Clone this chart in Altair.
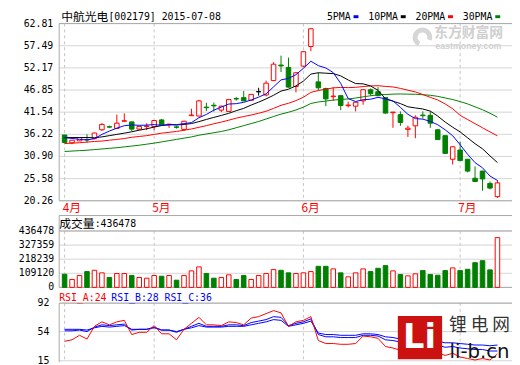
import altair as alt
import pandas as pd

# ---------------- data ----------------
candle = list(range(1, 60))
opens = [36.06, 34.17, 34.64, 34.95, 35.18, 37.31, 38.05, 37.64, 39.36, 39.20,
         37.47, 38.10, 38.11, 39.67, 38.50, 38.00, 37.40, 40.70, 40.61, 42.75,
         43.20, 42.03, 41.72, 44.80, 45.03, 44.39, 46.45, 45.67, 49.12, 52.85,
         52.28, 47.70, 52.59, 57.31, 48.81, 47.23, 45.25, 45.50, 43.10, 42.98,
         44.25, 46.92, 46.45, 45.03, 41.40, 40.95, 37.40, 38.25, 40.85, 40.78,
         37.31, 35.89, 30.23, 32.45, 30.23, 25.67, 27.39, 24.42, 21.25]
highs = [36.06, 34.85, 35.50, 36.22, 36.60, 38.89, 38.30, 40.95, 41.25, 39.30,
         38.20, 38.89, 39.60, 39.90, 38.75, 38.30, 39.45, 42.36, 44.50, 43.80,
         43.85, 43.10, 44.70, 45.20, 46.61, 45.90, 47.39, 49.12, 53.53, 55.11,
         54.64, 51.10, 56.20, 61.70, 51.00, 47.39, 47.56, 45.60, 44.09, 44.00,
         47.00, 47.23, 47.56, 45.10, 41.60, 41.72, 38.30, 40.78, 41.72, 41.72,
         37.40, 36.00, 33.30, 34.48, 30.30, 28.50, 27.50, 24.89, 25.20]
lows = [34.24, 33.86, 34.60, 34.24, 35.04, 37.00, 37.70, 37.60, 39.20, 37.00,
        37.40, 37.24, 37.20, 38.30, 37.78, 37.60, 37.00, 40.70, 40.50, 41.80,
        41.70, 41.56, 41.60, 44.30, 44.20, 44.30, 45.50, 45.34, 49.00, 51.17,
        47.40, 46.28, 52.40, 56.20, 46.75, 42.98, 44.25, 42.03, 42.67, 41.72,
        43.31, 45.50, 45.40, 41.20, 37.78, 38.25, 35.59, 35.28, 40.00, 37.78,
        34.90, 31.60, 28.97, 29.80, 27.08, 24.80, 22.67, 23.00, 20.95]
closes = [34.24, 34.81, 35.42, 34.88, 36.53, 38.59, 37.95, 38.89, 39.48, 37.47,
          38.11, 38.20, 39.53, 38.42, 38.65, 37.90, 39.36, 40.85, 44.25, 42.60,
          43.05, 42.98, 44.56, 44.70, 44.25, 45.81, 46.45, 48.50, 53.06, 52.65,
          47.56, 51.00, 56.06, 61.56, 47.39, 44.72, 45.40, 43.14, 43.25, 43.92,
          46.92, 45.97, 45.50, 41.32, 41.55, 39.06, 37.70, 40.31, 40.70, 38.89,
          34.95, 31.64, 33.22, 29.92, 27.39, 24.89, 25.50, 23.31, 24.56]
volumes = [101800, 61300, 91900, 122500, 132500, 112600, 76600, 107200, 107200, 91900,
           76600, 71200, 91900, 86500, 91900, 55900, 91900, 127900, 158500, 107200,
           71200, 76600, 97200, 61300, 91900, 61300, 91900, 107200, 137800, 132500,
           112600, 107200, 112600, 122500, 163100, 163100, 143200, 112600, 81900, 112600,
           143200, 122500, 147800, 168500, 127900, 99500, 89600, 104900, 130200, 99500,
           94200, 130200, 150800, 130200, 140100, 191400, 206700, 135500, 385100]
ma5 = [35.42, 35.23, 35.00, 34.88, 35.18, 36.20, 37.00, 37.70, 38.29, 38.48,
       38.38, 38.43, 38.56, 38.35, 38.58, 38.54, 38.77, 39.04, 40.20, 40.99,
       42.02, 42.75, 43.49, 43.58, 43.91, 44.46, 45.15, 45.94, 47.61, 49.29,
       49.64, 50.55, 52.07, 53.77, 52.71, 52.15, 51.03, 48.44, 44.78, 44.09,
       44.53, 44.64, 45.11, 44.73, 44.25, 42.68, 41.03, 39.99, 39.86, 39.33,
       38.51, 37.30, 35.88, 33.72, 31.42, 29.41, 28.18, 26.20, 25.13]
ma10 = [35.45, 35.45, 35.45, 35.45, 35.40, 35.60, 35.90, 36.20, 36.50, 36.83,
        37.21, 37.55, 37.96, 38.32, 38.53, 38.46, 38.60, 38.80, 39.27, 39.79,
        40.28, 40.76, 41.26, 41.89, 42.45, 43.24, 43.95, 44.72, 45.60, 46.60,
        47.05, 47.85, 49.00, 50.69, 51.00, 50.90, 50.79, 50.25, 49.27, 48.40,
        48.34, 47.83, 46.78, 44.75, 44.17, 43.60, 42.83, 42.55, 42.30, 41.79,
        40.60, 39.16, 37.93, 36.79, 35.38, 33.96, 32.74, 31.04, 29.43]
ma20 = [34.00, 34.10, 34.20, 34.35, 34.50, 34.60, 34.80, 35.00, 35.20, 35.50,
        35.70, 35.90, 36.20, 36.50, 36.70, 36.90, 37.20, 37.50, 37.90, 38.31,
        38.75, 39.16, 39.61, 40.10, 40.49, 40.85, 41.28, 41.76, 42.44, 43.19,
        43.67, 44.31, 45.13, 46.29, 46.73, 47.07, 47.37, 47.48, 47.43, 47.50,
        47.69, 47.84, 47.89, 47.72, 47.59, 47.25, 46.81, 46.40, 45.78, 45.10,
        44.47, 43.50, 42.36, 40.77, 39.77, 38.78, 37.79, 36.80, 35.86]
ma30 = [32.10, 32.20, 32.30, 32.40, 32.55, 32.70, 32.85, 33.00, 33.20, 33.40,
        33.60, 33.85, 34.10, 34.40, 34.70, 35.00, 35.30, 35.60, 36.00, 36.30,
        36.60, 36.90, 37.30, 37.80, 38.30, 38.80, 39.30, 39.90, 40.50, 41.07,
        41.52, 42.06, 42.74, 43.63, 43.99, 44.20, 44.45, 44.59, 44.71, 44.93,
        45.22, 45.48, 45.68, 45.78, 45.87, 45.91, 45.86, 45.84, 45.72, 45.60,
        45.33, 44.95, 44.57, 44.08, 43.52, 42.82, 42.12, 41.28, 40.33]
rsi_a = [41, 43, 49, 44, 61, 67, 63, 67, 69, 50,
         53, 53, 62, 51, 51, 43, 57, 65, 73, 63,
         63, 62, 67, 66, 63, 72, 74, 78, 82, 79,
         61, 67, 69, 74, 42, 38, 38, 37, 37, 38,
         48, 47, 45, 34, 32, 29, 27, 35, 31, 32,
         26, 22, 25, 20, 18, 16, 18, 16, 24]
rsi_b = [55, 55, 56, 54, 60, 63, 62, 63, 64, 56,
         57, 57, 60, 56, 56, 53, 57, 61, 65, 61,
         61, 61, 63, 63, 62, 66, 68, 70, 74, 73,
         62, 65, 67, 71, 50, 47, 47, 46, 46, 46,
         49, 49, 48, 43, 42, 40, 38, 40, 39, 38,
         36, 33, 34, 32, 31, 30, 30, 28, 28]
rsi_c = [57, 57, 57, 56, 59, 61, 60, 61, 62, 57,
         57, 57, 59, 56, 56, 54, 57, 59, 62, 60,
         60, 60, 61, 61, 61, 63, 65, 67, 70, 69,
         61, 63, 65, 68, 52, 50, 50, 49, 49, 49,
         51, 51, 50, 47, 46, 44, 43, 44, 43, 42,
         41, 39, 39, 38, 37, 36, 36, 35, 36]

price_ticks = [62.81, 57.49, 52.17, 46.85, 41.54, 36.22, 30.90, 25.58, 20.26]
vol_ticks = [436478, 327359, 218239, 109120, 0]
rsi_ticks = [92, 54, 15]
month_pos = [1, 13, 33, 54]
month_labels = ["4月", "5月", "6月", "7月"]
ma_names = ["5PMA", "10PMA", "20PMA", "30PMA"]
ma_colors = ["#0000FF", "#000000", "#FF0000", "#008000"]

# ---------------- frames ----------------
df = pd.DataFrame({"i": candle, "open": opens, "high": highs, "low": lows,
                   "close": closes, "vol": volumes, "ma5": ma5, "ma10": ma10,
                   "ma20": ma20, "ma30": ma30, "ra": rsi_a, "rb": rsi_b, "rc": rsi_c})
df["dir"] = ["up" if c > o else ("down" if c < o else "flat") for o, c in zip(opens, closes)]
df["vdir"] = ["down" if c < o else "up" for o, c in zip(opens, closes)]
ptk = pd.DataFrame({"v": price_ticks, "lab": [f"{v:.2f}" for v in price_ticks]})
vtk = pd.DataFrame({"v": vol_ticks, "lab": [str(v) for v in vol_ticks]})
rtk = pd.DataFrame({"v": rsi_ticks, "lab": [str(v) for v in rsi_ticks]})
mdf = pd.DataFrame({"i": month_pos, "lab": month_labels})
one = pd.DataFrame({"k": [0]})

W = 460
MONO = "DejaVu Sans Mono"
CJK = "Noto Sans CJK SC"
GRID = "#d4d4d4"
BORDER = "#a8a8a8"

xs = alt.Scale(domain=[0.935, 60.29], nice=False, zero=False)
ps = alt.Scale(domain=[20.26, 62.81], range=[180, 0], nice=False, zero=False)
vs = alt.Scale(domain=[0, 436478], range=[268, 210.7], nice=False, zero=True)
rs = alt.Scale(domain=[15, 92], range=[342.5, 284], nice=False, zero=False)

stroke_sc = alt.Scale(domain=["up", "down", "flat"], range=["#FF0000", "#008000", "#000000"])
fill_sc = alt.Scale(domain=["up", "down", "flat"], range=["#FFFFFF", "#008000", "#000000"])


def X():
    return alt.X("i:Q", scale=xs, axis=None)


def hline(y, x1=0, x2=W, color=BORDER):
    return alt.Chart(one).mark_rule(color=color, strokeWidth=1).encode(
        x=alt.value(x1), x2=alt.value(x2), y=alt.value(y))


def vline(x, y1, y2, color=BORDER):
    return alt.Chart(one).mark_rule(color=color, strokeWidth=1).encode(
        x=alt.value(x), y=alt.value(y1), y2=alt.value(y2))


def txt(s, x, y, font=MONO, size=10, color="#000000", align="left", weight="normal"):
    return alt.Chart(one).mark_text(text=s, font=font, fontSize=size, color=color, align=align,
                                    baseline="middle", fontWeight=weight).encode(
        x=alt.value(x), y=alt.value(y))


layers = []

# watermarks (eastmoney)
layers.append(alt.Chart(one).mark_arc(radius=10, radius2=5, theta=3.6, theta2=8.2,
                                      color="#d6d6d6").encode(x=alt.value(369), y=alt.value(14)))
layers.append(txt("东方财富网", 381, 10, font=CJK, size=14, color="#cfcfcf", weight="bold"))
layers.append(txt("eastmoney.com", 382, 23, font="Liberation Sans", size=9, color="#cfcfcf",
                  weight="bold"))

# gridlines
layers.append(alt.Chart(ptk).mark_rule(color=GRID).encode(
    y=alt.Y("v:Q", scale=ps, axis=None), x=alt.value(0), x2=alt.value(W)))
layers.append(alt.Chart(vtk).mark_rule(color=GRID).encode(
    y=alt.Y("v:Q", scale=vs, axis=None), x=alt.value(0), x2=alt.value(W)))
layers.append(alt.Chart(rtk).mark_rule(color=GRID).encode(
    y=alt.Y("v:Q", scale=rs, axis=None), x=alt.value(0), x2=alt.value(W)))

# month dashed lines
for y1, y2 in [(0, 180), (210.7, 268), (284, 342.5)]:
    layers.append(alt.Chart(mdf).mark_rule(color="#c4c4c4", strokeDash=[3, 3]).encode(
        x=X(), y=alt.value(y1), y2=alt.value(y2)))

# borders
layers += [hline(0), vline(0, 0, 180), hline(180),
           hline(195), hline(210.7), vline(0, 195, 268), hline(268),
           hline(284), vline(0, 284, 344)]

# axis labels
layers.append(alt.Chart(ptk).mark_text(align="right", baseline="middle", font=MONO, fontSize=10).encode(
    y=alt.Y("v:Q", scale=ps, axis=None), x=alt.value(-6), text="lab:N"))
layers.append(alt.Chart(vtk).mark_text(align="right", baseline="middle", font=MONO, fontSize=10).encode(
    y=alt.Y("v:Q", scale=vs, axis=None), x=alt.value(-5), text="lab:N"))
layers.append(alt.Chart(rtk).mark_text(align="right", baseline="middle", font=MONO, fontSize=10).encode(
    y=alt.Y("v:Q", scale=rs, axis=None), x=alt.value(-10), text="lab:N"))
layers.append(alt.Chart(mdf).mark_text(align="left", baseline="middle", font=CJK, fontSize=12,
                                       color="#FF0000", dx=-2).encode(
    x=X(), y=alt.value(187), text="lab:N"))

# candles
base = alt.Chart(df)
layers.append(base.mark_rule(strokeWidth=1).encode(
    x=X(), y=alt.Y("low:Q", scale=ps, axis=None), y2="high:Q",
    color=alt.Color("dir:N", scale=stroke_sc, legend=None)))
layers.append(base.mark_bar(size=4.6, strokeWidth=1).encode(
    x=X(), y=alt.Y("open:Q", scale=ps, axis=None), y2="close:Q",
    stroke=alt.Stroke("dir:N", scale=stroke_sc, legend=None),
    fill=alt.Fill("dir:N", scale=fill_sc, legend=None)))

# moving averages
for col, c in zip(["ma30", "ma20", "ma10", "ma5"], ["#008000", "#FF0000", "#000000", "#0000FF"]):
    layers.append(base.mark_line(color=c, strokeWidth=1).encode(
        x=X(), y=alt.Y(f"{col}:Q", scale=ps, axis=None)))

# volume
layers.append(base.mark_bar(size=4.6, strokeWidth=1).encode(
    x=X(), y=alt.Y("vol:Q", scale=vs, axis=None),
    stroke=alt.Stroke("vdir:N", scale=stroke_sc, legend=None),
    fill=alt.Fill("vdir:N", scale=fill_sc, legend=None)))

# RSI
for col, c in [("rc", "#0000FF"), ("rb", "#0000FF"), ("ra", "#FF0000")]:
    layers.append(base.mark_line(color=c, strokeWidth=1).encode(
        x=X(), y=alt.Y(f"{col}:Q", scale=rs, axis=None)))

# panel texts
layers.append(txt("中航光电", 2, -7, font=CJK, size=12))
layers.append(txt("[002179] 2015-07-08", 50, -7))
for k, (nm, c) in enumerate(zip(ma_names, ma_colors)):
    xe = 296 + 48 * k
    layers.append(txt(nm, xe, -7, align="right"))
    layers.append(alt.Chart(one).mark_rule(color=c, strokeWidth=3).encode(
        x=alt.value(xe + 3), x2=alt.value(xe + 8), y=alt.value(-7)))
layers.append(txt("成交量", 0, 204, font=CJK, size=12))
layers.append(txt(":436478", 36, 204))
layers.append(txt("RSI_A:24", 0, 279, color="#FF0000"))
layers.append(txt("RSI_B:28", 53, 279, color="#0000FF"))
layers.append(txt("RSI_C:36", 107, 279, color="#0000FF"))

# li-b.cn logo
layers.append(alt.Chart(one).mark_rect(color="#cc1111").encode(
    x=alt.value(344), x2=alt.value(389), y=alt.value(297), y2=alt.value(341)))
layers.append(txt("Li", 366, 320, font="DejaVu Sans", size=34, color="#ffffff", align="center",
                  weight="bold"))
layers.append(txt("锂 电 网", 427, 307, font=CJK, size=18, color="#333333", align="center"))
layers.append(txt("li-b.cn", 427, 334, font="DejaVu Sans", size=20, color="#111111", align="center"))

chart = alt.layer(*layers).resolve_scale(
    y="independent", stroke="shared", fill="shared"
).properties(
    width=W, height=344,
    autosize=alt.AutoSizeParams(type="none"),
    padding={"left": 52, "top": 13, "right": 0, "bottom": 0},
    background="#ffffff",
).configure_view(stroke=None)

chart.save("out.html", embed_options={"renderer": "svg", "actions": False})
